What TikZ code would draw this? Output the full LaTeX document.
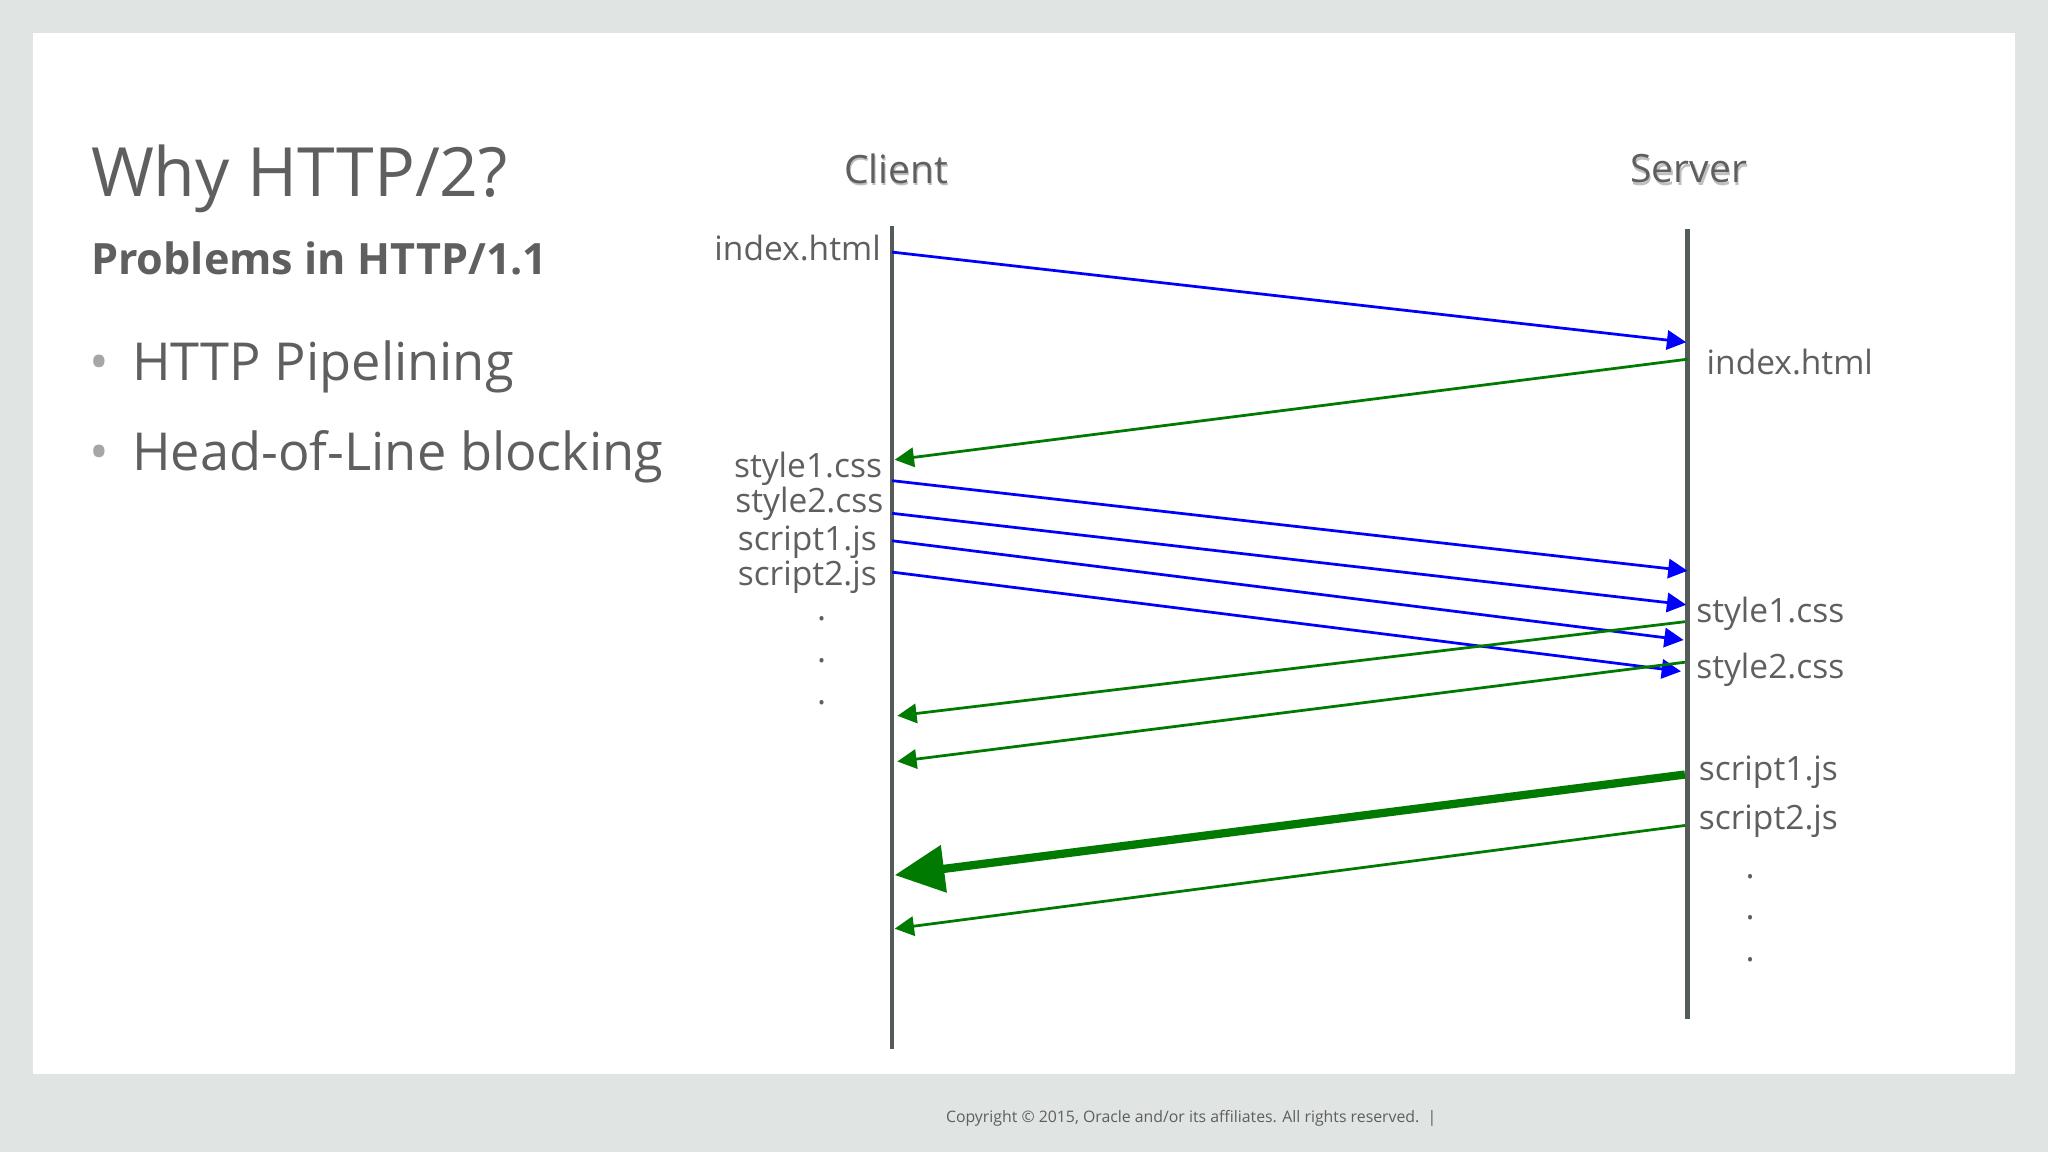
\documentclass[tikz,border=0pt]{standalone}
\usepackage{fontspec}
\setmainfont{Open Sans}
\usetikzlibrary{arrows.meta}
\definecolor{bg}{HTML}{E0E4E3}
\definecolor{txt}{HTML}{5F5F5F}
\definecolor{lane}{HTML}{555A5A}
\definecolor{gr}{HTML}{007A00}
\tikzset{
 lbl/.style={text=txt,font=\fontsize{7.3pt}{8pt}\selectfont,inner sep=0pt},
 req/.style={blue,line width=0.6pt,-{Triangle[length=4.2pt,width=4.2pt]}},
 resp/.style={gr,line width=0.6pt,-{Triangle[length=4.2pt,width=4.2pt]}},
 big/.style={gr,line width=1.8pt,-{Triangle[length=10.8pt,width=10pt]}},
 lanes/.style={lane,line width=0.9pt},
 dot/.style={text=txt,font=\fontsize{7.4pt}{8pt}\selectfont,inner sep=0pt}
}
\begin{document}
\begin{tikzpicture}[x=0.1mm,y=-0.1mm]
\fill[bg] (0,0) rectangle (1568,882);
\fill[white] (25,25) rectangle (1543,822);
\node[anchor=west,text=txt,font=\fontsize{14.8pt}{16pt}\selectfont,inner sep=0pt] (t) at (69,137) {Why HTTP/2?};
\node[anchor=west,text=txt,font=\fontsize{9.4pt}{11pt}\selectfont\bfseries,inner sep=0pt] (st) at (69,198) {Problems in HTTP/1.1};
\node[anchor=west,text=txt,font=\fontsize{11.4pt}{13pt}\selectfont,inner sep=0pt] (b1) at (68,281) {{\color{gray!70}•}\hspace{5pt}HTTP Pipelining};
\node[anchor=west,text=txt,font=\fontsize{11.4pt}{13pt}\selectfont,inner sep=0pt] (b2) at (68,350) {{\color{gray!70}•}\hspace{5pt}Head-of-Line blocking};
\node[text=gray!50,font=\fontsize{8.5pt}{10pt}\selectfont,inner sep=0pt] at (687,131) {Client};
\node[text=txt,font=\fontsize{8.5pt}{10pt}\selectfont,inner sep=0pt] (client) at (686,129) {Client};
\node[text=gray!50,font=\fontsize{8.5pt}{10pt}\selectfont,inner sep=0pt] at (1294,131) {Server};
\node[text=txt,font=\fontsize{8.5pt}{10pt}\selectfont,inner sep=0pt] (server) at (1293,129) {Server};
\coordinate (ct) at (683,173); \coordinate (cb) at (683,803);
\coordinate (sT) at (1292,175); \coordinate (sB) at (1292,780);
\draw[lanes] (ct) -- (cb);
\draw[lanes] (sT) -- (sB);
% client labels
\node[lbl,anchor=east] at (675,190) {index.html};
\node[lbl,anchor=east] at (676,359) {style1.css};
\node[lbl,anchor=east] at (677,386) {style2.css};
\node[lbl,anchor=east] at (672,415) {script1.js};
\node[lbl,anchor=east] at (672,442) {script2.js};
\foreach \y in {474,506,538} \node[dot] at (629,\y) {.};
% server labels
\node[lbl,anchor=west] at (1306,277) {index.html};
\node[lbl,anchor=west] at (1298,470) {style1.css};
\node[lbl,anchor=west] at (1298,513) {style2.css};
\node[lbl,anchor=west] at (1300,591) {script1.js};
\node[lbl,anchor=west] at (1300,629) {script2.js};
\foreach \y in {671,703,735} \node[dot] at (1340,\y) {.};
% arrows
\coordinate (a1) at (683,193); \coordinate (a2) at (1291,262);
\coordinate (b1s) at (1292,275); \coordinate (b2s) at (685,352);
\coordinate (c1) at (683,368); \coordinate (c2) at (1292,437);
\coordinate (d1) at (683,393); \coordinate (d2) at (1291,463);
\coordinate (e1) at (683,414); \coordinate (e2) at (1289,490);
\coordinate (f1) at (683,438); \coordinate (f2) at (1287,514);
\coordinate (g1) at (1290,476); \coordinate (g2) at (687,548);
\coordinate (h1) at (1290,507); \coordinate (h2) at (687,583);
\coordinate (i1) at (1290,593); \coordinate (i2) at (685,670);
\coordinate (j1) at (1290,632); \coordinate (j2) at (685,711);
\draw[req] (a1) -- (a2);
\draw[resp] (b1s) -- (b2s);
\draw[req] (c1) -- (c2);
\draw[req] (d1) -- (d2);
\draw[req] (e1) -- (e2);
\draw[req] (f1) -- (f2);
\draw[resp] (g1) -- (g2);
\draw[resp] (h1) -- (h2);
\draw[big] (i1) -- (i2);
\draw[resp] (j1) -- (j2);
\node[text=txt,font=\fontsize{3.45pt}{4pt}\selectfont,inner sep=0pt] (cp) at (912,856) {Copyright © 2015, Oracle and/or its affiliates. All rights reserved.\ \ |};
\end{tikzpicture}
\end{document}
